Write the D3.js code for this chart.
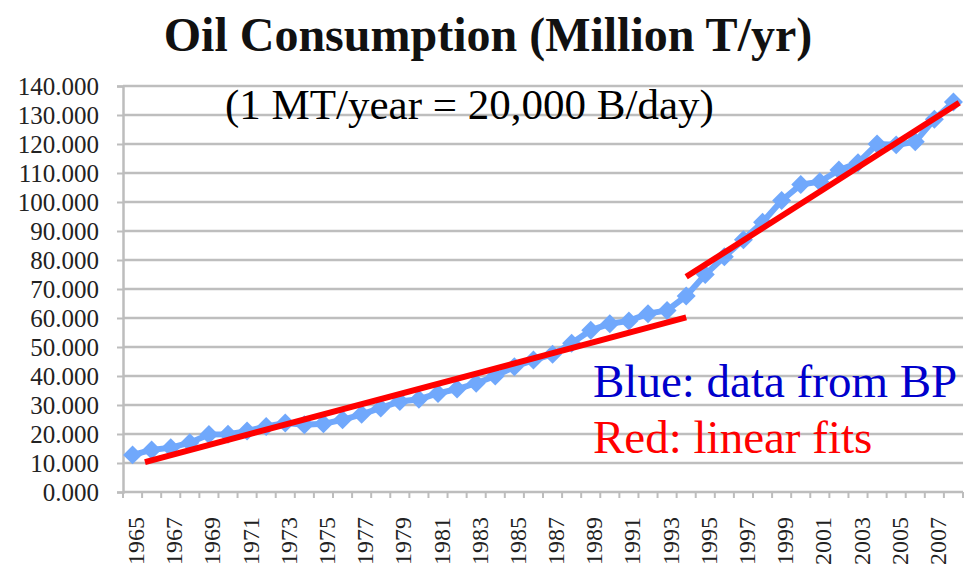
<!DOCTYPE html>
<html>
<head>
<meta charset="utf-8">
<script src="https://cdn.jsdelivr.net/npm/d3@7"></script>
<style>
  body { margin: 0; background: #fff; }
</style>
</head>
<body>
<div id="chart"></div>
<script>
// Oil consumption, million tonnes per year
const years = d3.range(1965, 2009);
const consumption = [
  12.8, 14.5, 15.3, 17.0, 19.8, 19.9, 21.0, 22.6, 23.8, 23.2,
  23.5, 24.9, 26.8, 29.0, 31.2, 32.0, 34.0, 35.5, 37.5, 40.0,
  43.2, 45.5, 47.5, 51.3, 55.8, 58.0, 59.0, 61.5, 62.6, 67.6,
  75.0, 81.1, 87.0, 93.0, 100.5, 106.0, 107.0, 111.0, 113.5, 120.0,
  119.7, 120.8, 128.5, 134.5
];
// two linear fits, endpoints as [year, value]
const fit1 = [[1965.65, 10.3], [1994, 60.2]];
const fit2 = [[1994, 74.2], [2008.3, 134.2]];
const yTicks = d3.range(0, 141, 10);

const serif = "'Liberation Serif', 'Times New Roman', Tinos, 'DejaVu Serif', serif";

const W = 973, H = 571;
const margin = { top: 86, right: 10, bottom: 79, left: 123 };
const width = 840;
const height = H - margin.top - margin.bottom;

const svg = d3.select("#chart").append("svg")
  .attr("width", W)
  .attr("height", H)
  .attr("font-family", serif);

// title
svg.append("text")
  .attr("x", 488).attr("y", 51)
  .attr("text-anchor", "middle")
  .attr("font-size", 48)
  .attr("font-weight", "bold")
  .attr("fill", "#111")
  .text("Oil Consumption (Million T/yr)");

const g = svg.append("g")
  .attr("transform", `translate(${margin.left},${margin.top})`);

const x = d3.scaleBand().domain(years).range([0, width]).padding(0);
const xLin = d3.scaleLinear().domain([1964.5, 2008.5]).range([0, width]);
const y = d3.scaleLinear().domain([0, 140]).range([height, 0]);

// gridlines
g.append("g")
  .selectAll("line")
  .data(yTicks.filter(d => d > 0))
  .join("line")
  .attr("x1", 0).attr("x2", width)
  .attr("y1", d => y(d)).attr("y2", d => y(d))
  .attr("stroke", "#bebebe")
  .attr("stroke-width", 2.5);

// y axis
const yAxis = g.append("g")
  .call(d3.axisLeft(y).tickValues(yTicks).tickFormat(d3.format(".3f")).tickSize(6).tickPadding(18))
  .attr("font-family", serif)
  .attr("font-size", 25);
yAxis.select(".domain").attr("stroke", "#bdbdbd").attr("stroke-width", 2.5);
yAxis.selectAll(".tick line").attr("stroke", "#bdbdbd").attr("stroke-width", 2);
yAxis.selectAll(".tick text").attr("fill", "#222");

// x axis: ticks at category boundaries, odd-year labels
const xAxisG = g.append("g")
  .attr("transform", `translate(0,${height})`);
xAxisG.append("line")
  .attr("x1", 0).attr("x2", width)
  .attr("stroke", "#bdbdbd").attr("stroke-width", 2.5);
xAxisG.selectAll(".bound")
  .data(years.concat([2009]))
  .join("line")
  .attr("class", "bound")
  .attr("x1", d => xLin(d - 0.5)).attr("x2", d => xLin(d - 0.5))
  .attr("y1", 0).attr("y2", 6)
  .attr("stroke", "#bdbdbd").attr("stroke-width", 2);
xAxisG.selectAll(".lbl")
  .data(years.filter(d => d % 2 === 1))
  .join("text")
  .attr("class", "lbl")
  .attr("transform", d => `translate(${x(d) + x.bandwidth() / 2 + 11.5},${25}) rotate(-90)`)
  .attr("text-anchor", "end")
  .attr("fill", "#222")
  .attr("font-size", 24)
  .text(d => d);

// blue data series
const line = d3.line()
  .x((d, i) => x(years[i]) + x.bandwidth() / 2)
  .y(d => y(d));
g.append("path")
  .datum(consumption)
  .attr("d", line)
  .attr("fill", "none")
  .attr("stroke", "#70a8fc")
  .attr("stroke-width", 6);

const diamond = d3.symbol().type(d3.symbolSquare).size(180);
g.selectAll(".pt")
  .data(consumption)
  .join("path")
  .attr("class", "pt")
  .attr("d", diamond)
  .attr("transform", (d, i) => `translate(${x(years[i]) + x.bandwidth() / 2},${y(d)}) rotate(45)`)
  .attr("fill", "#70a8fc");

// red linear fits
const fitLine = d3.line().x(d => xLin(d[0])).y(d => y(d[1]));
[fit1, fit2].forEach(f => {
  g.append("path")
    .datum(f)
    .attr("d", fitLine)
    .attr("stroke", "#ff0000")
    .attr("stroke-width", 6)
    .attr("fill", "none");
});

// annotations
svg.append("text")
  .attr("x", 225).attr("y", 119)
  .attr("font-size", 43)
  .attr("fill", "#000")
  .text("(1 MT/year = 20,000 B/day)");
svg.append("text")
  .attr("x", 593).attr("y", 397)
  .attr("font-size", 47)
  .attr("fill", "#0000cc")
  .text("Blue: data from BP");
svg.append("text")
  .attr("x", 593).attr("y", 453)
  .attr("font-size", 47)
  .attr("fill", "#ff0000")
  .text("Red: linear fits");
</script>
</body>
</html>
